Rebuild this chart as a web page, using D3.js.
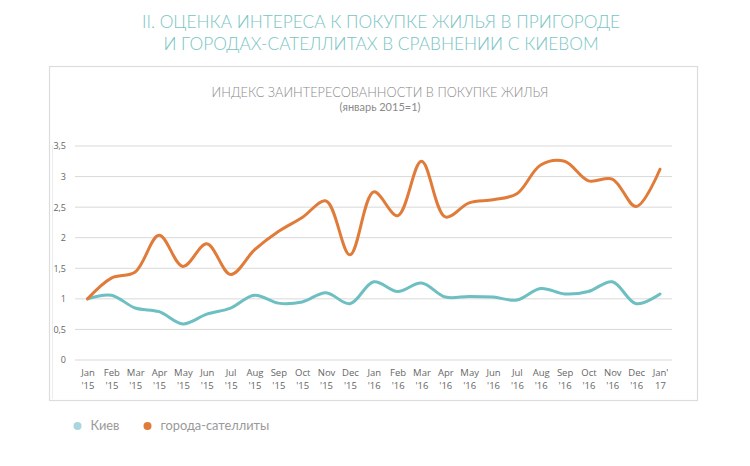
<!DOCTYPE html>
<html>
<head>
<meta charset="utf-8">
<script src="https://cdn.jsdelivr.net/npm/d3@7"></script>
<style>
  html, body { margin: 0; padding: 0; background: #fff; }
  svg { display: block; }
</style>
</head>
<body>
<svg id="chart" width="750" height="466"></svg>
<script>
const months = ["Jan","Feb","Mar","Apr","May","Jun","Jul","Aug","Sep","Oct","Nov","Dec",
                "Jan","Feb","Mar","Apr","May","Jun","Jul","Aug","Sep","Oct","Nov","Dec","Jan'"];
const years  = ["'15","'15","'15","'15","'15","'15","'15","'15","'15","'15","'15","'15",
                "'16","'16","'16","'16","'16","'16","'16","'16","'16","'16","'16","'16","17"];
const kiev = [1.00, 1.06, 0.85, 0.79, 0.59, 0.75, 0.85, 1.06, 0.93, 0.95, 1.10, 0.92,
              1.28, 1.12, 1.26, 1.03, 1.04, 1.03, 0.98, 1.17, 1.08, 1.12, 1.28, 0.92, 1.08];
const satellites = [1.00, 1.34, 1.44, 2.04, 1.53, 1.90, 1.40, 1.80, 2.10, 2.33, 2.60, 1.72,
                    2.75, 2.36, 3.25, 2.34, 2.57, 2.62, 2.72, 3.19, 3.25, 2.93, 2.96, 2.51, 3.12];
const yTicks = [0, 0.5, 1, 1.5, 2, 2.5, 3, 3.5];
const seriesNames = ["Киев", "города-сателлиты"];
const seriesColors = ["#6DBFC1", "#E07B39"];
const legendColors = ["#A9D6DC", "#E07B39"];

const svg = d3.select("#chart");
const fontTitle = "Lato, 'Open Sans', sans-serif";
const fontAxis = "'Open Sans', 'Noto Sans', sans-serif";

// Page title
svg.append("text").attr("x", 381).attr("y", 28).attr("text-anchor", "middle")
  .attr("font-family", fontTitle).attr("font-weight", 300).attr("font-size", 17.3)
  .attr("fill", "#79C4C3")
  .text("II. ОЦЕНКА ИНТЕРЕСА К ПОКУПКЕ ЖИЛЬЯ В ПРИГОРОДЕ");
svg.append("text").attr("x", 381).attr("y", 50).attr("text-anchor", "middle")
  .attr("font-family", fontTitle).attr("font-weight", 300).attr("font-size", 17.3)
  .attr("fill", "#79C4C3")
  .text("И ГОРОДАХ-САТЕЛЛИТАХ В СРАВНЕНИИ С КИЕВОМ");

// Chart box
svg.append("rect").attr("x", 49.5).attr("y", 66.5).attr("width", 648).attr("height", 334)
  .attr("fill", "#fff").attr("stroke", "#dcdcdc").attr("stroke-width", 1.2);
svg.append("line").attr("x1", 52.5).attr("x2", 52.5).attr("y1", 145).attr("y2", 399)
  .attr("stroke", "#ececec").attr("stroke-width", 1);

// Chart title
svg.append("text").attr("x", 380).attr("y", 97).attr("text-anchor", "middle")
  .attr("font-family", fontTitle).attr("font-weight", 300).attr("font-size", 12.8).attr("fill", "#8a8a8a")
  .text("ИНДЕКС ЗАИНТЕРЕСОВАННОСТИ В ПОКУПКЕ ЖИЛЬЯ");
svg.append("text").attr("x", 380).attr("y", 111).attr("text-anchor", "middle")
  .attr("font-family", fontTitle).attr("font-size", 11).attr("fill", "#8a8a8a")
  .text("(январь 2015=1)");

// Scales
const x = d3.scalePoint().domain(d3.range(months.length)).range([87.5, 660]);
const y = d3.scaleLinear().domain([0, 3.5]).range([360, 146]);

// Gridlines
const gridG = svg.append("g");
gridG.selectAll("line").data(yTicks).join("line")
  .attr("x1", 75).attr("x2", 672)
  .attr("y1", d => y(d)).attr("y2", d => y(d))
  .attr("stroke", "#d9d9d9").attr("stroke-width", 1);

// Y axis
const yAxis = svg.append("g").attr("transform", "translate(70,0)")
  .call(d3.axisLeft(y).tickValues(yTicks).tickSize(0).tickPadding(4)
    .tickFormat(d => String(d).replace(".", ",")));
yAxis.select(".domain").remove();
yAxis.selectAll("text").attr("font-family", fontAxis).attr("font-size", 9).attr("fill", "#666");

// X axis labels
const xAxis = svg.append("g").attr("transform", "translate(0,360)")
  .call(d3.axisBottom(x).tickSize(0).tickFormat(() => ""));
xAxis.select(".domain").remove();
xAxis.selectAll(".tick").each(function(d) {
  const t = d3.select(this).select("text").text(null)
    .attr("font-family", fontAxis).attr("font-size", 9.5).attr("fill", "#666")
    .attr("y", 0).attr("dy", null);
  t.append("tspan").attr("x", 0).attr("y", 16).text(months[d]);
  t.append("tspan").attr("x", 0).attr("y", 29).text(years[d]);
});

// Lines
const line = d3.line().x((d, i) => x(i)).y(d => y(d)).curve(d3.curveCatmullRom.alpha(0.5));
[kiev, satellites].forEach((s, k) => {
  svg.append("path").datum(s).attr("d", line)
    .attr("fill", "none").attr("stroke", seriesColors[k]).attr("stroke-width", 3)
    .attr("stroke-linecap", "round").attr("stroke-linejoin", "round");
});

// Legend
const legendX = [77.5, 147.5];
seriesNames.forEach((name, k) => {
  svg.append("circle").attr("cx", legendX[k]).attr("cy", 426).attr("r", 4)
    .attr("fill", legendColors[k]);
  svg.append("text").attr("x", legendX[k] + 13).attr("y", 430)
    .attr("font-family", fontTitle).attr("font-size", 12.8).attr("fill", "#999")
    .text(name);
});
</script>
</body>
</html>
